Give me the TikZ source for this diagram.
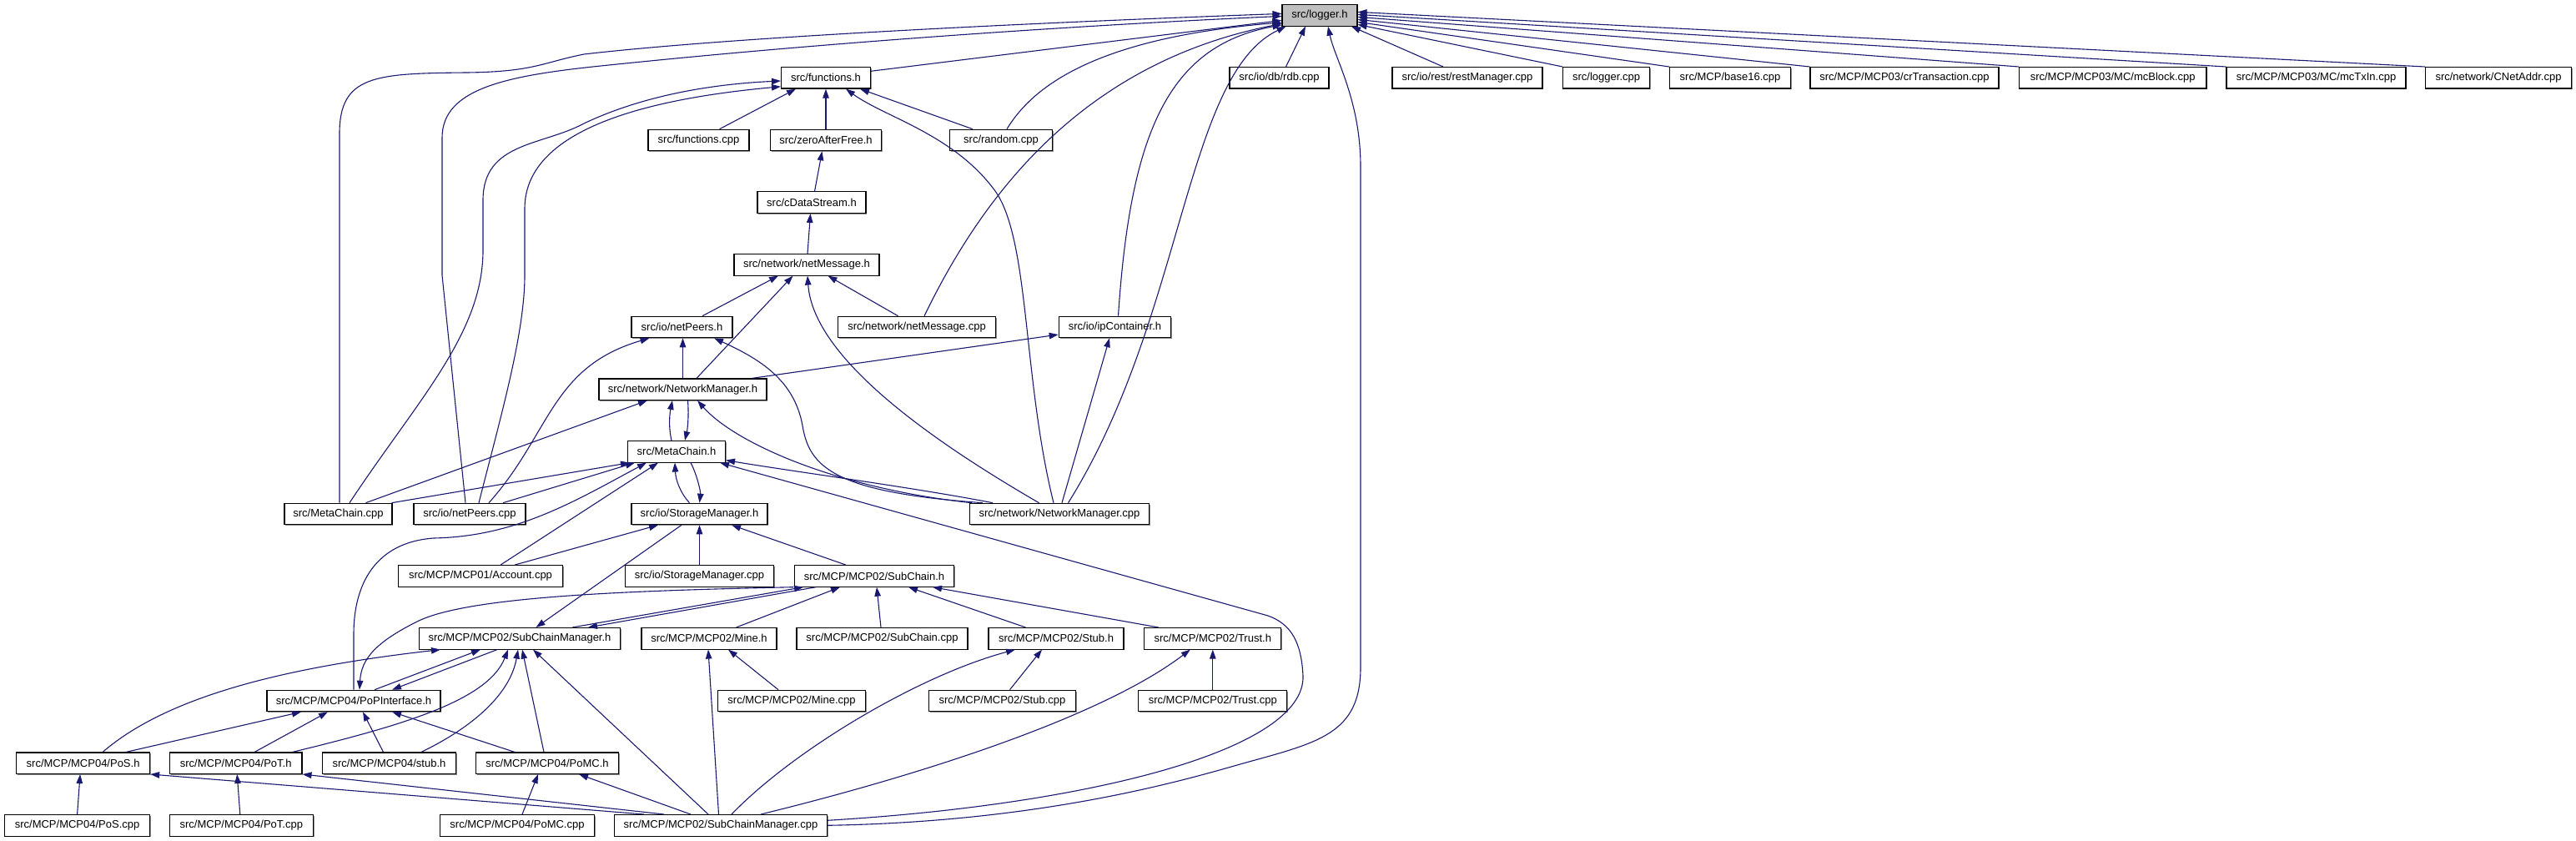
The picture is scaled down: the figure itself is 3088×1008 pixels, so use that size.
\documentclass[tikz,border=0pt]{standalone}
\usepackage{fontspec}
\setmainfont{Liberation Sans}
\usetikzlibrary{arrows.meta,shadows}
\definecolor{edgec}{HTML}{191970}
\begin{document}
\begin{tikzpicture}[x=1pt,y=-1pt,
  box/.style={draw=black, line width=1.1pt, fill=white, minimum height=25.5pt, inner sep=0pt,
    font=\fontsize{13}{15}\selectfont,
    drop shadow={shadow xshift=1.3pt,shadow yshift=-1.3pt,fill=black!45,opacity=1}},
  e/.style={draw=edgec, line width=1.1pt, -{Triangle[length=11pt,width=7.5pt]}}]
\useasboundingbox (0,0) rectangle (3088,1008);
% nodes
\node[box, minimum width=90pt, fill=gray!50] (logger) at (1582,18.4) {src/logger.h};
\node[box, minimum width=107pt] (functions) at (990,93.3) {src/functions.h};
\node[box, minimum width=119pt] (rdb) at (1533.5,93.3) {src/io/db/rdb.cpp};
\node[box, minimum width=180pt] (restmgr) at (1759,93.3) {src/io/rest/restManager.cpp};
\node[box, minimum width=104pt] (loggercpp) at (1925.6,93.3) {src/logger.cpp};
\node[box, minimum width=145pt] (base16) at (2074,93.3) {src/MCP/base16.cpp};
\node[box, minimum width=226pt] (crtx) at (2283,93.3) {src/MCP/MCP03/crTransaction.cpp};
\node[box, minimum width=224.5pt] (mcblock) at (2532.7,93.3) {src/MCP/MCP03/MC/mcBlock.cpp};
\node[box, minimum width=215pt] (mctxin) at (2776.5,93.3) {src/MCP/MCP03/MC/mcTxIn.cpp};
\node[box, minimum width=175pt] (cnetaddr) at (2995,93.3) {src/network/CNetAddr.cpp};
\node[box, minimum width=121pt] (funccpp) at (837.5,168) {src/functions.cpp};
\node[box, minimum width=133.5pt] (zero) at (990,168) {src/zeroAfterFree.h};
\node[box, minimum width=123pt] (random) at (1200,168) {src/random.cpp};
\node[box, minimum width=130pt] (cds) at (973,242.7) {src/cDataStream.h};
\node[box, minimum width=174pt] (netmsg) at (967,317.3) {src/network/netMessage.h};
\node[box, minimum width=121pt] (netpeers) at (817.5,392) {src/io/netPeers.h};
\node[box, minimum width=189.5pt] (netmsgcpp) at (1099,392) {src/network/netMessage.cpp};
\node[box, minimum width=134.5pt] (ipcont) at (1336.5,392) {src/io/ipContainer.h};
\node[box, minimum width=201pt] (nmh) at (818.5,466.7) {src/network/NetworkManager.h};
\node[box, minimum width=117pt] (metah) at (811,541.3) {src/MetaChain.h};
\node[box, minimum width=129pt] (metacpp) at (405.5,616) {src/MetaChain.cpp};
\node[box, minimum width=134pt] (netpeerscpp) at (563,616) {src/io/netPeers.cpp};
\node[box, minimum width=163pt] (storh) at (838.5,616) {src/io/StorageManager.h};
\node[box, minimum width=214.5pt] (nmcpp) at (1270,616) {src/network/NetworkManager.cpp};
\node[box, minimum width=197pt] (account) at (576,690.4) {src/MCP/MCP01/Account.cpp};
\node[box, minimum width=177.5pt] (storcpp) at (838.5,690.4) {src/io/StorageManager.cpp};
\node[box, minimum width=191pt] (subch) at (1048,690.4) {src/MCP/MCP02/SubChain.h};
\node[box, minimum width=241.5pt] (scmh) at (623,765.3) {src/MCP/MCP02/SubChainManager.h};
\node[box, minimum width=162pt] (mineh) at (850,765.3) {src/MCP/MCP02/Mine.h};
\node[box, minimum width=205pt] (subchcpp) at (1057.5,765.3) {src/MCP/MCP02/SubChain.cpp};
\node[box, minimum width=162pt] (stubh) at (1266,765.3) {src/MCP/MCP02/Stub.h};
\node[box, minimum width=164pt] (trusth) at (1453.8,765.3) {src/MCP/MCP02/Trust.h};
\node[box, minimum width=208pt] (popi) at (424,840) {src/MCP/MCP04/PoPInterface.h};
\node[box, minimum width=177pt] (minecpp) at (949,840) {src/MCP/MCP02/Mine.cpp};
\node[box, minimum width=176pt] (stubcpp) at (1201.5,840) {src/MCP/MCP02/Stub.cpp};
\node[box, minimum width=178pt] (trustcpp) at (1453.8,840) {src/MCP/MCP02/Trust.cpp};
\node[box, minimum width=160pt] (posh) at (99.6,914.7) {src/MCP/MCP04/PoS.h};
\node[box, minimum width=158.6pt] (poth) at (282.7,914.7) {src/MCP/MCP04/PoT.h};
\node[box, minimum width=160pt] (stubh4) at (466.5,914.7) {src/MCP/MCP04/stub.h};
\node[box, minimum width=170.5pt] (pomch) at (656,914.7) {src/MCP/MCP04/PoMC.h};
\node[box, minimum width=174pt] (poscpp) at (92.6,989.3) {src/MCP/MCP04/PoS.cpp};
\node[box, minimum width=172pt] (potcpp) at (289.3,989.3) {src/MCP/MCP04/PoT.cpp};
\node[box, minimum width=185pt] (pomccpp) at (620,989.3) {src/MCP/MCP04/PoMC.cpp};
\node[box, minimum width=254.6pt] (scmcpp) at (864,989.3) {src/MCP/MCP02/SubChainManager.cpp};
% edges into logger.h
\draw[e] ([yshift=8pt]functions.east) -- ([yshift=-6pt]logger.west);
\draw[e] ([xshift=7pt]random.north) .. controls (1240,100) and (1320,45) .. ([yshift=-8.5pt]logger.west);
\draw[e] ([xshift=9pt]netmsgcpp.north) .. controls (1180,230) and (1300,75) .. ([yshift=-10pt]logger.west);
\draw[e] ([xshift=4pt]ipcont.north) .. controls (1355,160) and (1400,55) .. ([yshift=-11.5pt]logger.west);
\draw[e] ([xshift=10.5pt]nmcpp.north) .. controls (1420,380) and (1420,90) .. ([xshift=5pt]logger.south west);
\draw[e] (scmcpp.east) .. controls (1250,985) and (1420,935) .. (1490,915) .. controls (1580,890) and (1631,880) .. (1631,800) -- (1631,200) .. controls (1631,120) and (1600,70) .. ([xshift=10pt]logger.south);
\draw[e] ([xshift=8pt]rdb.north) -- ([xshift=-17pt]logger.south);
\draw[e] ([xshift=-29pt]restmgr.north) -- ([xshift=38pt]logger.south);
\draw[e] (loggercpp.north west) -- ([yshift=-11pt]logger.east);
\draw[e] (base16.north west) -- ([yshift=-8pt]logger.east);
\draw[e] (crtx.north west) -- ([yshift=-5pt]logger.east);
\draw[e] (mcblock.north west) -- ([yshift=-2pt]logger.east);
\draw[e] (mctxin.north west) -- ([yshift=1pt]logger.east);
\draw[e] (cnetaddr.north west) -- ([yshift=4pt]logger.east);
\draw[e] ([xshift=1.5pt]metacpp.north) -- (407,160) .. controls (407,90) and (450,88) .. (560,87) .. controls (640,86) and (650,75) .. (700,65) .. controls (900,42) and (1300,25) .. ([yshift=2pt]logger.west);
\draw[e] ([xshift=-5pt]netpeerscpp.north) -- (530,330) -- (530,165) .. controls (530,105) and (610,90) .. (730,78) .. controls (1000,50) and (1300,30) .. ([yshift=-1pt]logger.west);
% functions.h
\draw[e] ([xshift=-34pt]random.north) -- ([xshift=41pt]functions.south);
\draw[e] ([xshift=25pt]funccpp.north) -- ([xshift=-36pt]functions.south);
\draw[e] (zero.north) -- (functions.south);
\draw[e] ([xshift=13.5pt]metacpp.north) .. controls (500,480) and (579,400) .. (579,300) -- (579,240) .. controls (579,170) and (650,175) .. (700,148) .. controls (780,110) and (870,100) .. ([yshift=-3.7pt]functions.west);
\draw[e] ([xshift=11pt]netpeerscpp.north) .. controls (600,500) and (629,400) .. (629,330) -- (629,250) .. controls (629,160) and (760,120) .. ([yshift=-10.5pt]functions.west);
\draw[e] ([xshift=-7pt]nmcpp.north) .. controls (1225,450) and (1235,280) .. (1190,225) .. controls (1140,160) and (1060,140) .. ([xshift=24pt]functions.south);
% chain
\draw[e] ([xshift=3.5pt]cds.north) -- ([xshift=-4.5pt]zero.south);
\draw[e] ([xshift=1pt]netmsg.north) -- ([xshift=-1.5pt]cds.south);
\draw[e] ([xshift=24.5pt]netpeers.north) -- ([xshift=-34pt]netmsg.south);
\draw[e] ([xshift=16.5pt]nmh.north) -- ([xshift=-16.5pt]netmsg.south);
\draw[e] ([xshift=-24.5pt]nmcpp.north) .. controls (1120,530) and (975,430) .. ([xshift=1pt]netmsg.south);
\draw[e] ([xshift=-22.5pt]netmsgcpp.north) -- ([xshift=25.5pt]netmsg.south);
% netPeers / NetworkManager / MetaChain
\draw[e] ([xshift=23pt]netpeerscpp.north) .. controls (660,520) and (660,440) .. ([xshift=-39pt]netpeers.south);
\draw[e] ([xshift=40pt]netpeerscpp.north) -- ([xshift=-50pt]metah.south);
\draw[e] ([xshift=64pt]metacpp.north) -- ([xshift=3pt]metah.south west);
\draw[e] ([xshift=33pt]metacpp.north) -- ([xshift=-42.5pt]nmh.south);
\draw[e] ([xshift=-6pt]metah.north) .. controls (801,510) and (803,495) .. ([xshift=-12.5pt]nmh.south);
\draw[e] ([xshift=6pt]nmh.south) .. controls (826,500) and (824,515) .. ([xshift=10pt]metah.north);
\draw[e] ([xshift=-105pt]nmcpp.north) .. controls (1000,585) and (880,530) .. ([xshift=17.5pt]nmh.south);
\draw[e] ([xshift=-92pt]nmcpp.north) .. controls (1000,590) and (970,560) .. (962,510) .. controls (952,455) and (910,430) .. ([xshift=38.5pt]netpeers.south);
\draw[e] ([xshift=-80pt]nmcpp.north) .. controls (1100,585) and (950,565) .. ([yshift=3pt]metah.south east);
\draw[e] ([xshift=3pt]nmcpp.north) -- ([xshift=-6.5pt]ipcont.south);
\draw[e] ([xshift=83pt]nmh.north) -- ([yshift=-9pt]ipcont.west);
\draw[e] (nmh.north) -- ([xshift=1pt]netpeers.south);
\draw[e] ([xshift=17pt]metah.south) .. controls (836,570) and (840,590) .. (storh.north);
\draw[e] ([xshift=-12pt]storh.north) .. controls (815,590) and (810,575) .. ([xshift=-2pt]metah.south);
\draw[e] ([xshift=24pt]account.north) -- ([xshift=-22pt]metah.south);
\draw[e] ([xshift=41pt]account.north) -- ([xshift=-49.5pt]storh.south);
\draw[e] (popi.north) -- (424,760) .. controls (424,700) and (450,650) .. (520,645) .. controls (620,643) and (690,600) .. ([xshift=-36pt]metah.south);
\draw[e] (storcpp.north) -- (storh.south);
\draw[e] ([xshift=-21.5pt]storh.south) -- ([xshift=19.5pt]scmh.north);
\draw[e] ([xshift=-34pt]subch.north) -- ([xshift=38.5pt]storh.south);
\draw[e] ([yshift=6pt]scmcpp.east) .. controls (1300,965) and (1565,900) .. (1562,810) .. controls (1560,770) and (1548,748) .. (1520,738) -- ([xshift=-7pt]metah.south east);
% SubChain.h
\draw[e] ([xshift=-70pt]subch.south) -- ([xshift=82pt]scmh.north);
\draw[e] ([xshift=63pt]scmh.north) -- ([xshift=-85pt]subch.south);
\draw[e] ([xshift=-97pt]subch.south) .. controls (750,708) and (560,715) .. (500,745) .. controls (450,770) and (433,790) .. ([xshift=7pt]popi.north);
\draw[e] ([xshift=32.5pt]mineh.north) -- ([xshift=-41pt]subch.south);
\draw[e] ([xshift=-1.5pt]subchcpp.north) -- ([xshift=3pt]subch.south);
\draw[e] ([xshift=-36.5pt]stubh.north) -- ([xshift=41pt]subch.south);
\draw[e] ([xshift=-65pt]trusth.north) -- ([xshift=70pt]subch.south);
% SubChainManager.h
\draw[e] ([xshift=23.5pt]posh.north) .. controls (200,835) and (340,800) .. ([xshift=-95pt]scmh.south);
\draw[e] ([xshift=25pt]popi.north) -- ([xshift=-47pt]scmh.south);
\draw[e] ([xshift=-27pt]scmh.south) -- ([xshift=46pt]popi.north);
\draw[e] ([xshift=68pt]poth.north) .. controls (480,870) and (585,840) .. ([xshift=-14pt]scmh.south);
\draw[e] ([xshift=38.5pt]stubh4.north) .. controls (570,870) and (612,830) .. ([xshift=-2pt]scmh.south);
\draw[e] ([xshift=-4pt]pomch.north) -- ([xshift=3pt]scmh.south);
\draw[e] ([xshift=-15pt]scmcpp.north) -- ([xshift=16pt]scmh.south);
% PoPInterface.h
\draw[e] ([xshift=51.5pt]posh.north) -- ([xshift=-63pt]popi.south);
\draw[e] ([xshift=22.5pt]poth.north) -- ([xshift=-31pt]popi.south);
\draw[e] ([xshift=-7pt]stubh4.north) -- ([xshift=11pt]popi.south);
\draw[e] ([xshift=-39pt]pomch.north) -- ([xshift=46pt]popi.south);
% bottom
\draw[e] (poscpp.north) -- ([xshift=-3.5pt]posh.south);
\draw[e] ([xshift=-1.5pt]potcpp.north) -- ([xshift=1.5pt]poth.south);
\draw[e] ([xshift=6pt]pomccpp.north) -- ([xshift=-11pt]pomch.south);
\draw[e] ([xshift=-92pt]scmcpp.north) -- (posh.south east);
\draw[e] ([xshift=-68pt]scmcpp.north) -- (poth.south east);
\draw[e] ([xshift=-36pt]scmcpp.north) -- ([xshift=38pt]pomch.south);
\draw[e] ([xshift=-2.5pt]scmcpp.north) -- ([xshift=-1pt]mineh.south);
\draw[e] ([xshift=-16pt]minecpp.north) -- ([xshift=23pt]mineh.south);
\draw[e] ([xshift=13pt]scmcpp.north) .. controls (950,900) and (1100,810) .. ([xshift=-49pt]stubh.south);
\draw[e] ([xshift=9pt]stubcpp.north) -- ([xshift=-17pt]stubh.south);
\draw[e] ([xshift=48pt]scmcpp.north) .. controls (1100,930) and (1320,860) .. ([xshift=-27pt]trusth.south);
\draw[e] (trustcpp.north) -- (trusth.south);
\end{tikzpicture}
\end{document}
